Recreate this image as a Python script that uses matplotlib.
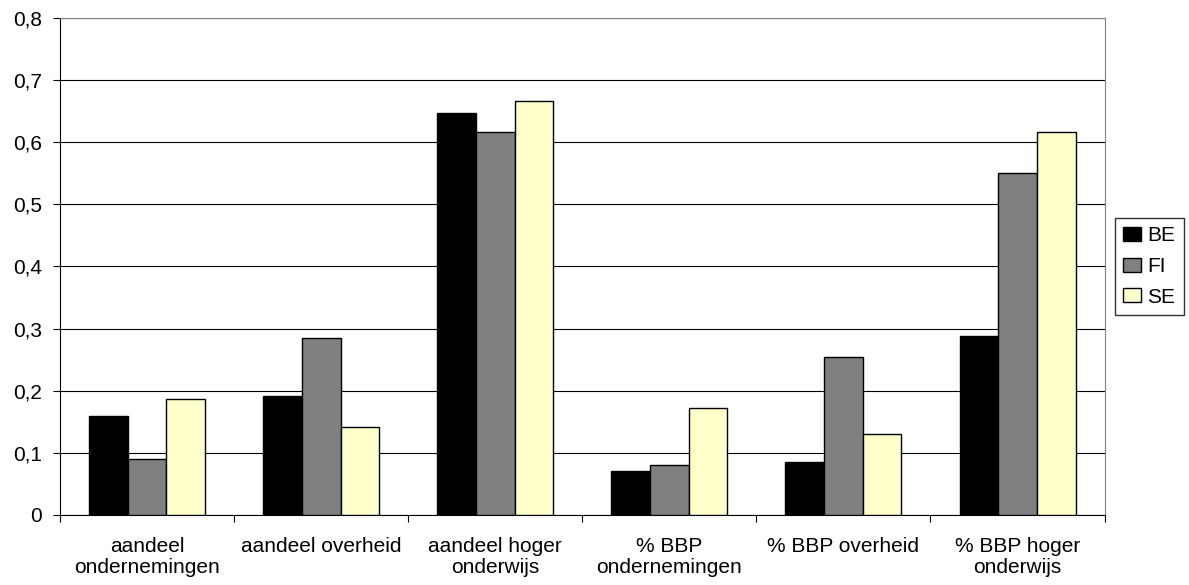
import matplotlib.pyplot as plt
import numpy as np
from matplotlib.ticker import FuncFormatter, MultipleLocator

plt.rcParams['font.family'] = ['Liberation Sans', 'DejaVu Sans']

categories = ["aandeel\nondernemingen", "aandeel overheid", "aandeel hoger\nonderwijs",
              "% BBP\nondernemingen", "% BBP overheid", "% BBP hoger\nonderwijs"]
series_names = ["BE", "FI", "SE"]
be = [0.160, 0.192, 0.647, 0.071, 0.086, 0.288]
fi = [0.090, 0.285, 0.616, 0.081, 0.255, 0.551]
se = [0.186, 0.141, 0.667, 0.172, 0.131, 0.617]
colors = ["#000000", "#808080", "#FFFFCC"]

fig = plt.figure(figsize=(11.89, 5.85), dpi=100)
ax = fig.add_axes([0.0505, 0.1197, 0.8785, 0.8495])

x = np.arange(len(categories))
w = 0.222
for i, (vals, name) in enumerate(zip([be, fi, se], series_names)):
    ax.bar(x + (i - 1) * w, vals, w, color=colors[i], edgecolor="black",
           linewidth=1, label=name, zorder=3)

ax.set_xlim(-0.5, len(categories) - 0.5)
ax.set_ylim(0, 0.8)
ax.yaxis.set_major_locator(MultipleLocator(0.1))
ax.yaxis.set_major_formatter(FuncFormatter(
    lambda v, p: "0" if abs(v) < 1e-9 else ("%.1f" % v).replace(".", ",")))
ax.grid(axis="y", color="black", linewidth=0.8, zorder=0)

ax.set_xticks(np.arange(len(categories) + 1) - 0.5)
ax.set_xticklabels([])
ax.set_xticks(x, minor=True)
ax.set_xticklabels(categories, minor=True, fontsize=15, linespacing=1.15)
ax.tick_params(axis="x", which="minor", length=0, pad=16)
ax.tick_params(axis="x", which="major", length=5, direction="out", color="black")
ax.tick_params(axis="y", length=5, direction="out", labelsize=15, pad=8)

for s in ["top", "right"]:
    ax.spines[s].set_color("#808080")
for s in ["left", "bottom"]:
    ax.spines[s].set_color("black")

leg = ax.legend(loc="center left", bbox_to_anchor=(1.01, 0.5), fontsize=15,
                frameon=True, fancybox=False, edgecolor="black",
                handlelength=0.85, handleheight=0.65, handletextpad=0.3,
                labelspacing=0.56, borderpad=0.4, borderaxespad=0)
leg.get_frame().set_linewidth(1)

fig.savefig("out.png", dpi=100)
